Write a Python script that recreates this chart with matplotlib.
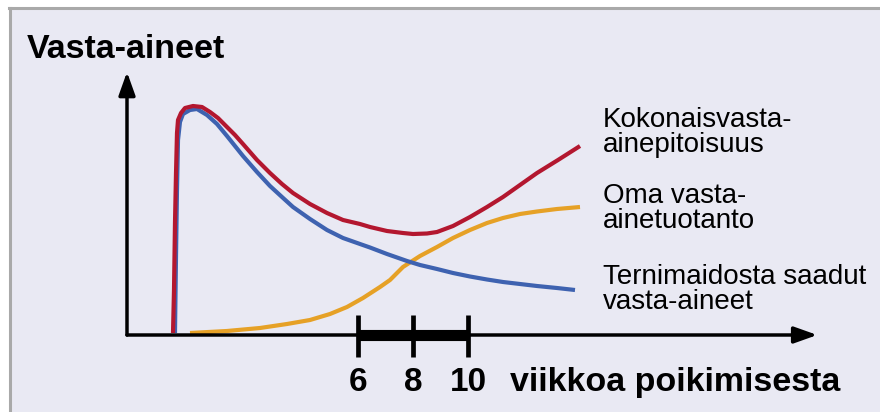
import matplotlib.pyplot as plt
from matplotlib.patches import Rectangle

plt.rcParams['font.family'] = ['Liberation Sans', 'DejaVu Sans']

# x = viikkoa poikimisesta, y = vasta-aineiden suhteellinen taso
total_x = [-0.727, -0.691, -0.655, -0.618, -0.582, -0.545, -0.436, -0.291, 0.0, 0.327,
           0.618, 0.909, 1.236, 1.527, 1.818, 2.327, 2.8, 3.236, 3.636, 4.255,
           4.873, 5.455, 6.073, 6.436, 7.055, 7.636, 8.0, 8.509, 8.873, 9.455,
           10.073, 10.691, 11.273, 11.891, 12.509, 13.273, 14.073]
total_y = [2, 45, 112, 162, 202, 215, 222, 227, 229, 228,
           223, 217, 208, 200, 191, 175, 162, 151, 142, 131,
           122, 115, 111, 108, 104, 102, 101, 101.5, 103, 109,
           118, 128, 138, 150, 162, 175, 189]

colostrum_x = [-0.655, -0.618, -0.582, -0.545, -0.473, -0.364, -0.109, 0.145, 0.509, 0.873,
               1.236, 1.527, 1.818, 2.327, 2.8, 3.236, 3.636, 4.255, 4.873, 5.455,
               6.073, 6.436, 7.055, 7.782, 8.255, 8.873, 9.455, 10.073, 10.691, 11.273,
               11.891, 12.509, 13.236, 13.891]
colostrum_y = [2, 78, 145, 195, 213, 221, 225, 226, 220, 211,
               199, 189, 179, 163, 149, 138, 128, 116, 105, 97,
               91, 87.5, 81, 74, 70, 66, 62, 58.5, 55.5, 53,
               51, 49, 47, 45]

own_x = [-0.109, 1.236, 2.436, 3.418, 4.255, 4.982, 5.6, 6.182, 6.8, 7.164, 7.418,
         7.636, 8.255, 8.873, 9.455, 10.073, 10.691, 11.273, 11.891, 12.509, 13.236, 14.073]
own_y = [2, 4, 7, 11, 15, 21, 28, 37, 48, 55, 62,
         68, 79, 88, 97, 105, 112, 117, 121, 123.5, 126, 128]

tick_weeks = [6, 8, 10]
tick_labels = ['6', '8', '10']

label_total = ['Kokonaisvasta-', 'ainepitoisuus']
label_own = ['Oma vasta-', 'ainetuotanto']
label_colostrum = ['Ternimaidosta saadut', 'vasta-aineet']

red = '#b3172f'
blue = '#3e62b0'
orange = '#e6a126'

fig = plt.figure(figsize=(8.8, 4.12), dpi=100)
ax = fig.add_axes([0, 0, 1, 1])
ax.set_xlim(-7.018, 24.982)
ax.set_ylim(-77, 335)
ax.axis('off')

# tausta ja reunus
ax.add_patch(Rectangle((9 / 880, 0), 1, 1 - 8 / 412, transform=ax.transAxes,
                       facecolor='#e9e9f3', edgecolor='none', zorder=0))
ax.plot([9 / 880, 1], [1 - 8 / 412] * 2, transform=ax.transAxes, color='#a9a9a9', lw=2.2)
ax.plot([9.5 / 880] * 2, [0, 1 - 8 / 412], transform=ax.transAxes, color='#a9a9a9', lw=2.2)

# akselit nuolineen
x0 = -2.4
arrow = dict(arrowstyle='-|>,head_length=14,head_width=5', lw=2.5, color='black',
             shrinkA=0, shrinkB=0, mutation_scale=1)
ax.annotate('', xy=(x0, 263), xytext=(x0, 0), arrowprops=arrow)
ax.annotate('', xy=(22.7, 0), xytext=(x0, 0), arrowprops=arrow)

# 6-10 viikon jakso
ax.plot([tick_weeks[0], tick_weeks[-1]], [0, 0], color='black', lw=8, solid_capstyle='butt')
for w, lab in zip(tick_weeks, tick_labels):
    ax.plot([w, w], [-22, 20], color='black', lw=3.4, solid_capstyle='butt')
    ax.text(w, -56, lab, ha='center', va='baseline', fontsize=24, fontweight='bold')

ax.text(11.53, -56, 'viikkoa poikimisesta', ha='left', va='baseline',
        fontsize=24.5, fontweight='bold')
ax.text(-6.04, 277, 'Vasta-aineet', ha='left', va='baseline', fontsize=24.5, fontweight='bold')

# käyrät
style = dict(lw=3, solid_capstyle='butt', solid_joinstyle='round')
ax.plot(own_x, own_y, color=orange, **style)
ax.plot(colostrum_x, colostrum_y, color=blue, **style)
ax.plot(total_x, total_y, color=red, **style)

lx = 14.91
for lines, y in [(label_total, 208), (label_own, 132), (label_colostrum, 51)]:
    for i, line in enumerate(lines):
        ax.text(lx, y - 25 * i, line, ha='left', va='baseline', fontsize=20)

fig.savefig('out.png', dpi=100)
